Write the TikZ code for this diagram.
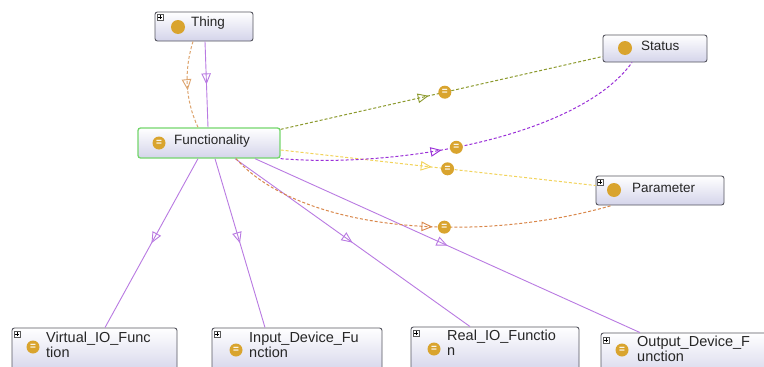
\documentclass[tikz,border=0pt]{standalone}
\usepackage{fontspec}
\setmainfont{Liberation Sans}
\usetikzlibrary{arrows.meta,decorations.markings}

\definecolor{boxline}{HTML}{55555F}
\definecolor{boxfill}{HTML}{D4D4EA}
\definecolor{focusline}{HTML}{74D66C}
\definecolor{isa}{HTML}{B97AE2}
\definecolor{gold}{HTML}{D9A42E}
\definecolor{pOlive}{HTML}{8C9A2E}
\definecolor{pViolet}{HTML}{9A30D8}
\definecolor{pYellow}{HTML}{F2D35A}
\definecolor{pOrange}{HTML}{D9874A}
\definecolor{pTan}{HTML}{DDA46E}

\tikzset{
  cbox/.style={draw=boxline, line width=0.9pt, rounded corners=2.5pt,
    top color=white, bottom color=boxfill, inner sep=0pt},
  expander/.style={draw=black!65, fill=white, minimum size=6.5pt, inner sep=0pt,
    path picture={
      \draw[black, line width=0.5pt]
        ([xshift=-2pt]path picture bounding box.center) -- +(4pt,0)
        ([yshift=-2pt]path picture bounding box.center) -- +(0,4pt);}},
  classdot/.style={circle, fill=gold, minimum size=14pt, inner sep=0pt},
  eqdot/.style={circle, fill=gold, minimum size=#1, inner sep=0pt, text=white,
    font=\fontsize{10}{10}\selectfont\bfseries},
  eqdot/.default=13pt,
  lbl/.style={anchor=west, inner sep=0pt, text=black!85,
    font=\fontsize{13.5}{15}\selectfont},
  lbltwo/.style={anchor=north west, inner sep=0pt, align=left, text=black!85,
    font=\fontsize{14.5}{15}\selectfont},
  opentip/.tip={Triangle[open, length=11pt, width=9.5pt, line width=0.9pt]},
  isaline/.style={draw=isa, line width=0.9pt, postaction={decorate},
    decoration={markings, mark=at position #1 with {\arrow{opentip}}}},
  isaline/.default=0.5,
  dashline/.style={line width=1pt, dash pattern=on 3pt off 2pt},
  tipline/.style n args={2}{draw=#1, dashline, postaction={decorate},
    decoration={markings, mark=at position #2 with {\arrow[#1]{opentip}}}},
  propline/.style n args={3}{draw=#1, dashline,
    postaction={decorate},
    decoration={markings,
      mark=at position #2 with {\arrow[#1]{opentip}},
      mark=at position #3 with {\node[eqdot=13pt]{=};}}}
}

\begin{document}
\begin{tikzpicture}[x=1pt, y=-1pt]
\path[use as bounding box, fill=white] (0,0) rectangle (764,367);
\clip (0,0) rectangle (764,367);

% class boxes
\node[cbox, minimum width=98pt, minimum height=29pt] (thing) at (204,26.5) {};
\node[cbox, draw=focusline, line width=1.3pt, minimum width=142pt, minimum height=30pt] (func) at (209,143) {};
\node[cbox, minimum width=104pt, minimum height=27pt] (status) at (655,48.5) {};
\node[cbox, minimum width=128pt, minimum height=29pt] (param) at (660,190.5) {};
\node[cbox, minimum width=165pt, minimum height=46pt] (virt) at (94.5,351) {};
\node[cbox, minimum width=170pt, minimum height=46pt] (inp) at (297,351) {};
\node[cbox, minimum width=168pt, minimum height=46pt] (real) at (495,350) {};
\node[cbox, minimum width=168pt, minimum height=46pt] (outp) at (685,356) {};

% icons and labels
\node[expander] (thingx) at (160,17) {};
\node[classdot] (thingi) at (178,27) {};
\node[lbl] (thingt) at (191,23) {Thing};

\node[eqdot] (funci) at (159,143) {=};
\node[lbl] (funct) at (174,141) {Functionality};

\node[classdot] (statusi) at (625,48) {};
\node[lbl] (statust) at (641,46) {Status};

\node[expander] (paramx) at (600,182) {};
\node[classdot] (parami) at (614,190) {};
\node[lbl] (paramt) at (632,188) {Parameter};

\node[expander] (virtx) at (17,334) {};
\node[eqdot] (virti) at (33,347) {=};
\node[lbltwo] (virtt) at (46,332) {Virtual\_IO\_Func\\tion};

\node[expander] (inpx) at (217,334) {};
\node[eqdot] (inpi) at (236,350) {=};
\node[lbltwo] (inpt) at (249,332) {Input\_Device\_Fu\\nction};

\node[expander] (realx) at (416,333) {};
\node[eqdot] (reali) at (434,349) {=};
\node[lbltwo] (realt) at (447,330) {Real\_IO\_Functio\\n};

\node[expander] (outpx) at (606,340) {};
\node[eqdot] (outpi) at (622,350) {=};
\node[lbltwo] (outpt) at (637,336) {Output\_Device\_F\\unction};

% subclass links
\path[isaline] ([xshift=1pt]thing.south) -- ([xshift=-1pt]func.north);
\path[tipline={pTan}{0.56}] ([xshift=-11pt]thing.south)
  .. controls +(-9,29) and +(-13,-28) .. ([xshift=-11pt]func.north);
\path[isaline] ([xshift=-11pt]func.south) -- ([xshift=10.5pt]virt.north);
\path[isaline] ([xshift=6pt]func.south) -- ([xshift=-32pt]inp.north);
\path[isaline] ([xshift=26pt]func.south) -- ([xshift=-25pt]real.north);
\path[isaline] ([xshift=46pt]func.south) -- ([xshift=-45pt]outp.north);

% object property links
\path[propline={pOlive}{0.46}{0.51}] ([yshift=-2pt]func.north east) -- ([yshift=-8pt]status.west);
\path[propline={pYellow}{0.48}{0.53}] ([yshift=-7pt]func.east) -- ([yshift=5pt]param.west);
\path[propline={pViolet}{0.43}{0.47}] (func.south east)
  .. controls +(120,10) and +(-52,73) .. ([xshift=-23pt]status.south);
\path[propline={pOrange}{0.54}{0.57}] ([xshift=27pt]func.south)
  .. controls +(64,72) and +(-140,40) .. ([xshift=-48pt]param.south);
\end{tikzpicture}
\end{document}
